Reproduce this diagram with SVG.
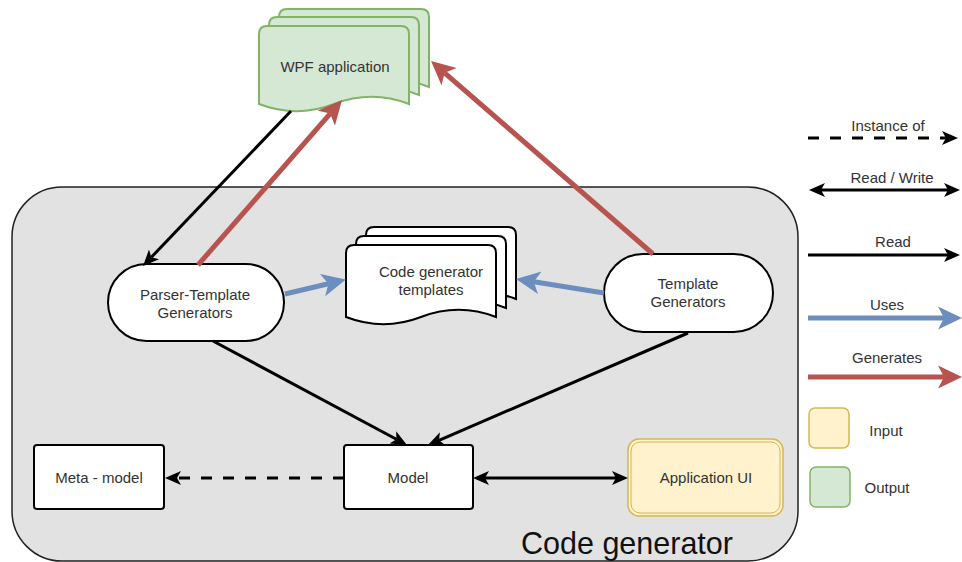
<svg xmlns="http://www.w3.org/2000/svg" width="962" height="562" viewBox="0 0 962 562">
<style>
text{font-family:"Liberation Sans",Arial,sans-serif;font-size:15px;fill:#333;text-anchor:middle}
.node{fill:#fff;stroke:#000;stroke-width:2}
.blk{stroke:#000;stroke-width:3;fill:none}
.red{stroke:#b85450;stroke-width:5;fill:none}
.blue{stroke:#6c8ebf;stroke-width:5;fill:none}
.dash{stroke-dasharray:11 11}
.wpf{fill:#d5e8d4;stroke:#82b366;stroke-width:2}
</style>
<defs>
<marker id="ab" markerUnits="userSpaceOnUse" markerWidth="18" markerHeight="16" refX="4" refY="7.5" orient="auto"><path d="M0,0.5 L16,7.5 L0,14.5 L4,7.5 Z" fill="#000"/></marker>
<marker id="abs" markerUnits="userSpaceOnUse" markerWidth="18" markerHeight="16" refX="4" refY="7.5" orient="auto-start-reverse"><path d="M0,0.5 L16,7.5 L0,14.5 L4,7.5 Z" fill="#000"/></marker>
<marker id="ar" markerUnits="userSpaceOnUse" markerWidth="26" markerHeight="26" refX="6" refY="12" orient="auto"><path d="M0,0.5 L24,12 L0,23.5 L6,12 Z" fill="#b85450"/></marker>
<marker id="au" markerUnits="userSpaceOnUse" markerWidth="26" markerHeight="26" refX="6" refY="12" orient="auto"><path d="M0,0.5 L24,12 L0,23.5 L6,12 Z" fill="#6c8ebf"/></marker>
</defs>

<g id="container">
<rect x="12" y="187" width="786" height="374" rx="50" fill="#e2e2e2" stroke="#222" stroke-width="1.5"/>
<text x="627" y="554" style="font-size:30.5px;fill:#111">Code generator</text>
</g>

<g id="wpf-application">
<path class="wpf" d="M279,17 Q279,9 287,9 L421,9 Q429,9 429,17 L429,87 Q391.5,72.6 354,87 Q316.5,101.4 279,87 Z"/>
<path class="wpf" d="M269,25 Q269,17 277,17 L411,17 Q419,17 419,25 L419,95 Q381.5,80.6 344,95 Q306.5,109.4 269,95 Z"/>
<path class="wpf" d="M259,34 Q259,26 267,26 L401,26 Q409,26 409,34 L409,104 Q371.5,89.6 334,104 Q296.5,118.4 259,104 Z"/>
<text x="335" y="72">WPF application</text>
</g>

<g id="code-generator-templates">
<path class="node" d="M366,235 Q366,227 374,227 L508,227 Q516,227 516,235 L516,299 Q478.5,284.6 441,299 Q403.5,313.4 366,299 Z"/>
<path class="node" d="M356,244 Q356,236 364,236 L498,236 Q506,236 506,244 L506,308 Q468.5,293.6 431,308 Q393.5,322.4 356,308 Z"/>
<path class="node" d="M346,253 Q346,245 354,245 L488,245 Q496,245 496,253 L496,317 Q458.5,302.6 421,317 Q383.5,331.4 346,317 Z"/>
<text x="431" y="277">Code generator</text>
<text x="431" y="295">templates</text>
</g>

<g id="parser-template-generators">
<rect class="node" x="108" y="264" width="176" height="77" rx="38.5"/>
<text x="195" y="300">Parser-Template</text>
<text x="195" y="318">Generators</text>
</g>

<g id="template-generators">
<rect class="node" x="604" y="254" width="169" height="78" rx="39"/>
<text x="688" y="289">Template</text>
<text x="688" y="307">Generators</text>
</g>

<g id="meta-model">
<rect class="node" x="34" y="445" width="130" height="64" rx="3"/>
<text x="99" y="483">Meta - model</text>
</g>

<g id="model">
<rect class="node" x="344" y="445" width="129" height="64" rx="3"/>
<text x="408" y="483">Model</text>
</g>

<g id="application-ui">
<rect x="628" y="439" width="155" height="77" rx="11" fill="#fff2cc" stroke="#d6b656" stroke-width="1.5"/>
<rect x="631" y="442" width="149" height="71" rx="9" fill="none" stroke="#d6b656" stroke-width="1"/>
<text x="706" y="483">Application UI</text>
</g>

<g id="connectors">
<line class="blk" x1="291" y1="111" x2="151.3" y2="257.3" marker-end="url(#ab)"/>
<line class="red" x1="198" y1="265" x2="330.2" y2="113.6" marker-end="url(#ar)"/>
<line class="red" x1="653" y1="254" x2="444.6" y2="72.8" marker-end="url(#ar)"/>
<line class="blue" x1="285" y1="294" x2="328.4" y2="283.75" marker-end="url(#au)"/>
<line class="blue" x1="604" y1="293" x2="533.8" y2="281.8" marker-end="url(#au)"/>
<line class="blk" x1="213" y1="341" x2="396.4" y2="439.3" marker-end="url(#ab)"/>
<line class="blk" x1="688" y1="333" x2="439" y2="440.3" marker-end="url(#ab)"/>
<line class="blk dash" x1="344" y1="478" x2="177" y2="478" marker-end="url(#ab)"/>
<line class="blk" x1="485" y1="478" x2="616" y2="478" marker-start="url(#abs)" marker-end="url(#abs)"/>
</g>

<g id="legend">
<line class="blk dash" x1="808" y1="138" x2="946" y2="138" marker-end="url(#ab)"/>
<text x="888" y="131">Instance of</text>
<line class="blk" x1="821" y1="190" x2="948" y2="190" marker-start="url(#abs)" marker-end="url(#abs)"/>
<text x="892" y="183">Read / Write</text>
<line class="blk" x1="808" y1="255" x2="948" y2="255" marker-end="url(#ab)"/>
<text x="893" y="247">Read</text>
<line class="blue" x1="808" y1="318" x2="944" y2="318" marker-end="url(#au)"/>
<text x="887" y="310">Uses</text>
<line class="red" x1="808" y1="377" x2="944" y2="377" marker-end="url(#ar)"/>
<text x="887" y="363">Generates</text>
<rect x="809" y="408" width="40" height="40" rx="6" fill="#fff2cc" stroke="#d6b656" stroke-width="1.5"/>
<text x="886" y="436">Input</text>
<rect x="810" y="467" width="40" height="40" rx="6" fill="#d5e8d4" stroke="#82b366" stroke-width="1.5"/>
<text x="887" y="493">Output</text>
</g>
</svg>
